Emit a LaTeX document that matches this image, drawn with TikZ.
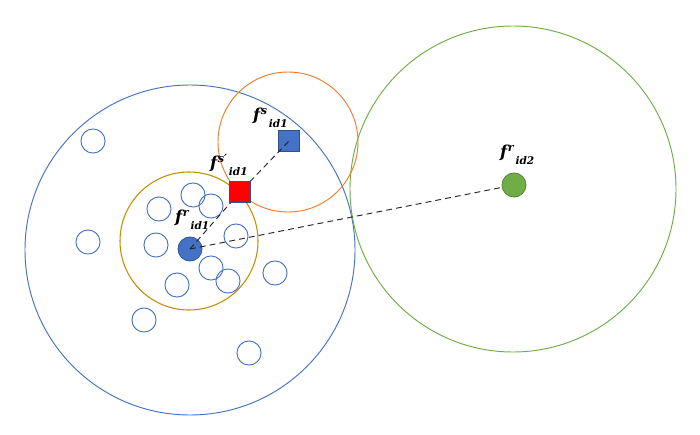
\documentclass[tikz,border=0pt]{standalone}
\usepackage{fontspec}
\setmainfont{DejaVu Serif}
\usetikzlibrary{positioning}
\definecolor{cblue}{HTML}{4472C4}
\definecolor{cdblue}{HTML}{2F528F}
\definecolor{corange}{HTML}{ED7D31}
\definecolor{cgold}{HTML}{BF9000}
\definecolor{cgreen}{HTML}{70AD47}
\definecolor{cdgreen}{HTML}{507E32}
\tikzset{
    ring/.style={circle, draw=cblue, line width=0.8pt, minimum size=20.5pt, inner sep=0pt},
    dot/.style={circle, line width=0.6pt, minimum size=20.5pt, inner sep=0pt},
    sqbox/.style={rectangle, draw=cdblue, line width=0.6pt, minimum size=18pt, inner sep=0pt},
    link/.style={dash pattern=on 5pt off 3.5pt, line width=0.8pt, black!85},
    lab/.style={anchor=base west, inner sep=0pt, font=\bfseries\itshape}
}
\newcommand{\flab}[2]{{\fontsize{14}{14}\selectfont f}\kern0.5pt\raisebox{4.5pt}{\fontsize{9.5}{10}\selectfont #1}\raisebox{-6pt}{\fontsize{9}{10}\selectfont\kern1.5pt #2}}

\begin{document}
\begin{tikzpicture}[x=0.85pt, y=-0.85pt]
    \useasboundingbox (0,0) rectangle (700,435);

    % Draw neighbourhood circles.
    \draw[cblue, line width=0.8pt] (190,250) circle (165);
    \draw[cgreen, line width=0.8pt] (513,189) circle (163);
    \draw[corange, line width=0.8pt] (288,142) circle (70);
    \draw[cgold, line width=0.9pt] (189,241) circle (69);

    % Draw samples.
    \foreach \x/\y [count=\i] in {93/141, 193/195, 159/209, 211/206, 88/242,
        156/245, 236/236, 211/268, 228/281, 275/273, 177/285, 144/320, 249/353}
        \node[ring] (c\i) at (\x,\y) {};

    % Draw features.
    \node[dot, fill=cblue, draw=cdblue] (fr1) at (190,249) {};
    \node[sqbox, fill=cblue] (fs1) at (289,141) {};
    \coordinate (sp1) at (240,192);
    \coordinate (r2) at (514,185);

    % Draw links.
    \draw[link] (fr1.center) -- (sp1) -- (fs1.center);
    \draw[link] (fr1.center) -- (r2);

    \node[sqbox, fill=red] (fsp1) at (sp1) {};
    \node[dot, fill=cgreen, draw=cdgreen] (fr2) at (r2) {};

    % Labels.
    \node[lab] (ls1) at (253,120) {\flab{s}{id1}};
    \node[lab] (lsp1) at (210,168) {\flab{s′}{id1}};
    \node[lab] (lr1) at (175,222) {\flab{r}{id1}};
    \node[lab] (lr2) at (500,157) {\flab{r}{id2}};
\end{tikzpicture}
\end{document}
